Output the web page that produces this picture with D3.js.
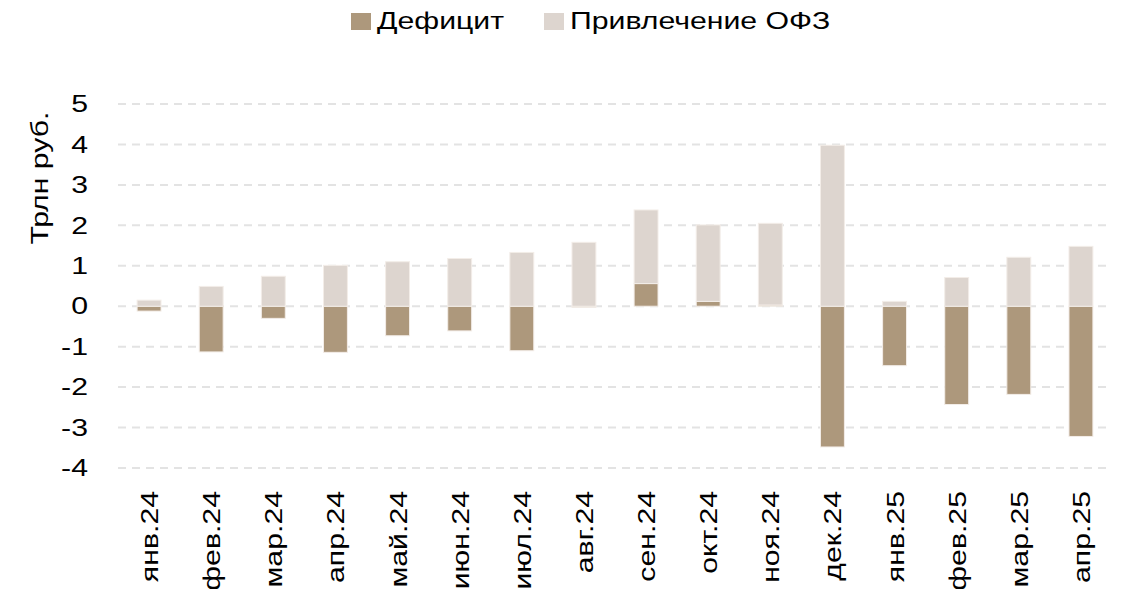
<!DOCTYPE html>
<html>
<head>
<meta charset="utf-8">
<script src="https://cdn.jsdelivr.net/npm/d3@7"></script>
<style>
  body { margin: 0; background: #fff; }
  text { font-family: "Liberation Sans", Arial, sans-serif; fill: #000; }
</style>
</head>
<body>
<svg id="chart" width="1125" height="589"></svg>
<script>
const months = ["янв.24", "фев.24", "мар.24", "апр.24", "май.24", "июн.24", "июл.24", "авг.24",
  "сен.24", "окт.24", "ноя.24", "дек.24", "янв.25", "фев.25", "мар.25", "апр.25"];
// дефицит (+ профицит)
const deficit = [-0.12, -1.13, -0.30, -1.14, -0.73, -0.61, -1.10, -0.03,
  0.56, 0.12, 0.03, -3.48, -1.47, -2.43, -2.18, -3.22];
// привлечение ОФЗ (стекается над профицитом)
const ofz = [0.15, 0.49, 0.74, 1.01, 1.10, 1.18, 1.33, 1.58,
  1.82, 1.89, 2.02, 3.98, 0.12, 0.71, 1.21, 1.48];
const yTicks = [5, 4, 3, 2, 1, 0, -1, -2, -3, -4];
const seriesNames = ["Дефицит", "Привлечение ОФЗ"];
const colors = ["#ad987c", "#ddd5cf"];

// the source font is wider than Liberation Sans, stretch text along its direction
const stretch = 1.26;

const svg = d3.select("#chart");

const x = d3.scaleBand().domain(months).range([118, 1112]).paddingInner(0.615).paddingOuter(0.3075);
const y = d3.scaleLinear().domain([-4, 5]).range([468, 104]);

// grid
svg.append("g")
  .selectAll("line")
  .data(yTicks)
  .join("line")
  .attr("x1", 118).attr("x2", 1112)
  .attr("y1", d => y(d)).attr("y2", d => y(d))
  .attr("stroke", "#e3e3e3")
  .attr("stroke-width", 2)
  .attr("stroke-dasharray", "8,6");

// y axis
const yAxis = svg.append("g")
  .attr("transform", "translate(88,0)")
  .call(d3.axisLeft(y).tickValues(yTicks).tickSize(0).tickPadding(0).tickFormat(d => String(d)));
yAxis.select(".domain").remove();
yAxis.selectAll("text")
  .attr("x", 0)
  .attr("transform", `scale(${stretch},1)`)
  .style("font-size", "24px")
  .style("font-family", "Liberation Sans, Arial, sans-serif")
  .attr("fill", "#000");

svg.append("text")
  .attr("transform", `translate(48,178) rotate(-90) scale(${stretch},1)`)
  .attr("text-anchor", "middle")
  .style("font-size", "24px")
  .text("Трлн руб.");

// bars
const table = months.map((m, i) => ({ month: m, d: deficit[i], o: ofz[i] }));
const stacked = d3.stack().keys(["d", "o"]).offset(d3.stackOffsetDiverging)(table);

svg.append("g")
  .selectAll("g")
  .data(stacked)
  .join("g")
  .attr("fill", (s, i) => colors[i])
  .selectAll("rect")
  .data(s => s)
  .join("rect")
  .attr("x", d => x(d.data.month))
  .attr("width", x.bandwidth())
  .attr("y", d => y(Math.max(d[0], d[1])))
  .attr("height", d => Math.abs(y(d[0]) - y(d[1])))
  .attr("stroke", "#f3ede8")
  .attr("stroke-width", 1);

// x labels
svg.append("g")
  .selectAll("text")
  .data(months)
  .join("text")
  .attr("transform", d => `translate(${x(d) + x.bandwidth() / 2 + 9},491) rotate(-90) scale(${stretch},1)`)
  .attr("text-anchor", "end")
  .style("font-size", "24px")
  .text(d => d);

// legend
const legendX = [351, 544];
const legend = svg.append("g")
  .selectAll("g")
  .data(seriesNames)
  .join("g")
  .attr("transform", (d, i) => `translate(${legendX[i]},13)`);
legend.append("rect").attr("width", 20).attr("height", 17).attr("fill", (d, i) => colors[i]);
legend.append("text")
  .attr("transform", `translate(26,16) scale(${stretch},1)`)
  .style("font-size", "24px")
  .text(d => d);
</script>
</body>
</html>
